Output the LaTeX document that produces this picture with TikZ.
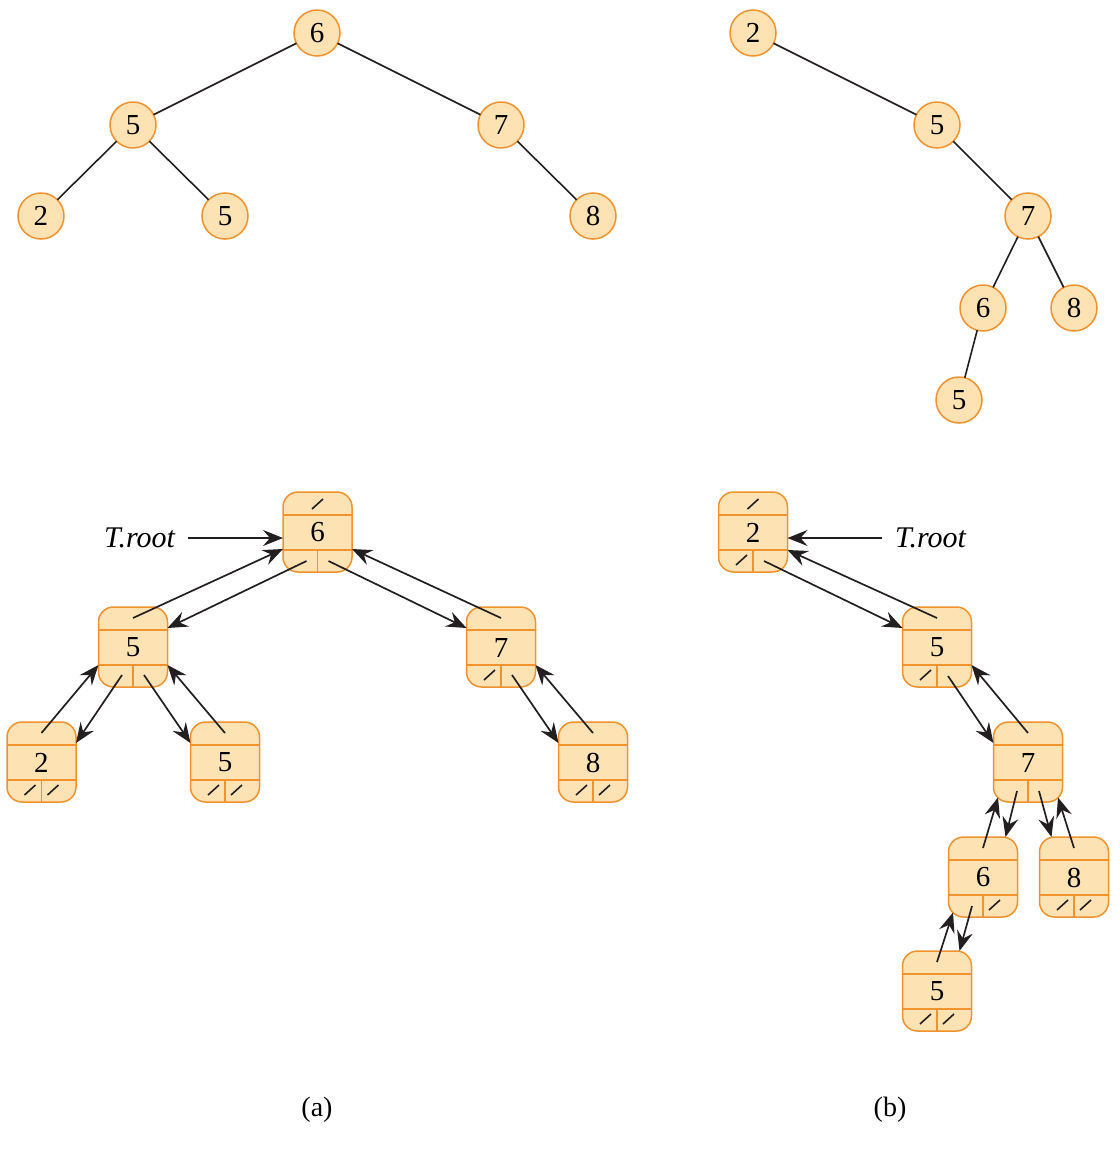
\documentclass[tikz,border=0pt]{standalone}
\usepackage{fontspec}
\setmainfont{Liberation Serif}
\usetikzlibrary{calc,arrows.meta}
\definecolor{nfill}{HTML}{FDE2B4}
\definecolor{nline}{HTML}{F0922E}
\definecolor{ink}{HTML}{231F20}
\tikzset{
  >={Stealth[length=10pt,width=8pt,inset=3.5pt]},
  circ/.style={circle,draw=nline,fill=nfill,line width=0.75pt,minimum size=23pt,inner sep=0pt,outer sep=0pt,font=\fontsize{14.5}{16}\selectfont},
  bx/.style={rectangle,draw=nline,fill=nfill,line width=0.75pt,rounded corners=7.5pt,minimum width=34.5pt,minimum height=40pt,inner sep=0pt,outer sep=0pt},
  lbl/.style={inner sep=0pt,font=\fontsize{14.5}{16}\selectfont},
  sep/.style={draw=nline,line width=0.75pt},
  edge/.style={draw=ink,line width=0.8pt},
  nilmark/.style={draw=ink,line width=0.8pt},
  arr/.style={draw=ink,line width=0.85pt,->},
  rootlbl/.style={inner sep=0pt,font=\fontsize{15}{17}\selectfont\itshape},
  captxt/.style={inner sep=0pt,font=\fontsize{14}{16}\selectfont}
}
\newcommand\mybox[4]{%
  \node[bx] (#1) at (#2,#3) {};
  \draw[sep] ($(#1)+(-34.5,-17)$) -- ($(#1)+(34.5,-17)$);
  \draw[sep] ($(#1)+(-34.5,18)$) -- ($(#1)+(34.5,18)$);
  \draw[sep] ($(#1)+(0,18)$) -- ($(#1)+(0,40)$);
  \node[lbl] (#1t) at ($(#1)+(0,0.5)$) {#4};
}
\newcommand\niltop[1]{\draw[nilmark] ($(#1)+(-5.5,-23)$) -- ($(#1)+(5.5,-33)$);}
\newcommand\nilleft[1]{\draw[nilmark] ($(#1)+(-17,33)$) -- ($(#1)+(-6,23)$);}
\newcommand\nilright[1]{\draw[nilmark] ($(#1)+(6,33)$) -- ($(#1)+(17,23)$);}
\begin{document}
\begin{tikzpicture}[x=0.5pt,y=-0.5pt]
\useasboundingbox (0,0) rectangle (1120,1158);
% ---------- top trees ----------
\node[circ] (c6) at (317,33) {6};
\node[circ] (c5) at (133,125) {5};
\node[circ] (c7) at (501,125) {7};
\node[circ] (c2) at (41,216) {2};
\node[circ] (c5r) at (225,216) {5};
\node[circ] (c8) at (593,216) {8};
\draw[edge] (c6) -- (c5);
\draw[edge] (c6) -- (c7);
\draw[edge] (c5) -- (c2);
\draw[edge] (c5) -- (c5r);
\draw[edge] (c7) -- (c8);

\node[circ] (d2) at (753,33) {2};
\node[circ] (d5) at (937,125) {5};
\node[circ] (d7) at (1028,216) {7};
\node[circ] (d6) at (983,308) {6};
\node[circ] (d8) at (1074,308) {8};
\node[circ] (d5b) at (959,400) {5};
\draw[edge] (d2) -- (d5);
\draw[edge] (d5) -- (d7);
\draw[edge] (d7) -- (d6);
\draw[edge] (d7) -- (d8);
\draw[edge] (d6) -- (d5b);

% ---------- bottom (a) ----------
\mybox{A6}{317.5}{532}{6}
\mybox{A5}{133}{647}{5}
\mybox{A7}{501}{647}{7}
\mybox{A2}{41.5}{762}{2}
\mybox{A5r}{225}{762}{5}
\mybox{A8}{593}{762}{8}
\niltop{A6}
\nilleft{A7}
\nilleft{A2}\nilright{A2}
\nilleft{A5r}\nilright{A5r}
\nilleft{A8}\nilright{A8}

\node[rootlbl] (Ta) at (139.5,538) {T.root};
\draw[arr] ($(Ta.east)+(13,0)$) -- ($(A6)+(-34.5,6)$);
\draw[arr] ($(A5)+(0,-29)$) -- ($(A6)+(-34.5,17)$);
\draw[arr] ($(A6)+(-11,29)$) -- ($(A5)+(34.5,-19)$);
\draw[arr] ($(A7)+(0,-29)$) -- ($(A6)+(34.5,17)$);
\draw[arr] ($(A6)+(11,29)$) -- ($(A7)+(-34.5,-19)$);
\draw[arr] ($(A2)+(0,-29)$) -- ($(A5)+(-34.5,18)$);
\draw[arr] ($(A5)+(-11,28)$) -- ($(A2)+(34.5,-19)$);
\draw[arr] ($(A5r)+(0,-29)$) -- ($(A5)+(34.5,18)$);
\draw[arr] ($(A5)+(11,28)$) -- ($(A5r)+(-34.5,-19)$);
\draw[arr] ($(A8)+(0,-29)$) -- ($(A7)+(34.5,18)$);
\draw[arr] ($(A7)+(11,28)$) -- ($(A8)+(-34.5,-19)$);

% ---------- bottom (b) ----------
\mybox{B2}{753}{532}{2}
\mybox{B5}{937}{647}{5}
\mybox{B7}{1028}{762}{7}
\mybox{B6}{983}{877}{6}
\mybox{B8}{1074}{877}{8}
\mybox{B5b}{937}{991}{5}
\niltop{B2}\nilleft{B2}
\nilleft{B5}
\nilright{B6}
\nilleft{B8}\nilright{B8}
\nilleft{B5b}\nilright{B5b}

\node[rootlbl] (Tb) at (930.5,538) {T.root};
\draw[arr] ($(Tb.west)+(-13,0)$) -- ($(B2)+(34.5,6)$);
\draw[arr] ($(B5)+(0,-29)$) -- ($(B2)+(34.5,18)$);
\draw[arr] ($(B2)+(11,29)$) -- ($(B5)+(-34.5,-19)$);
\draw[arr] ($(B7)+(0,-29)$) -- ($(B5)+(34.5,18)$);
\draw[arr] ($(B5)+(11,29)$) -- ($(B7)+(-34.5,-19)$);
\draw[arr] ($(B6)+(0,-29)$) -- ($(B7)+(-30,35.5)$);
\draw[arr] ($(B7)+(-11,29)$) -- ($(B6)+(22.5,-40)$);
\draw[arr] ($(B8)+(0,-29)$) -- ($(B7)+(30,35.5)$);
\draw[arr] ($(B7)+(11,29)$) -- ($(B8)+(-22.5,-40)$);
\draw[arr] ($(B5b)+(0,-29)$) -- ($(B6)+(-30,35.5)$);
\draw[arr] ($(B6)+(-11,29)$) -- ($(B5b)+(22.5,-40)$);

% ---------- captions ----------
\node[captxt] (capa) at (317,1110) {(a)};
\node[captxt] (capb) at (890,1110) {(b)};
\end{tikzpicture}
\end{document}
